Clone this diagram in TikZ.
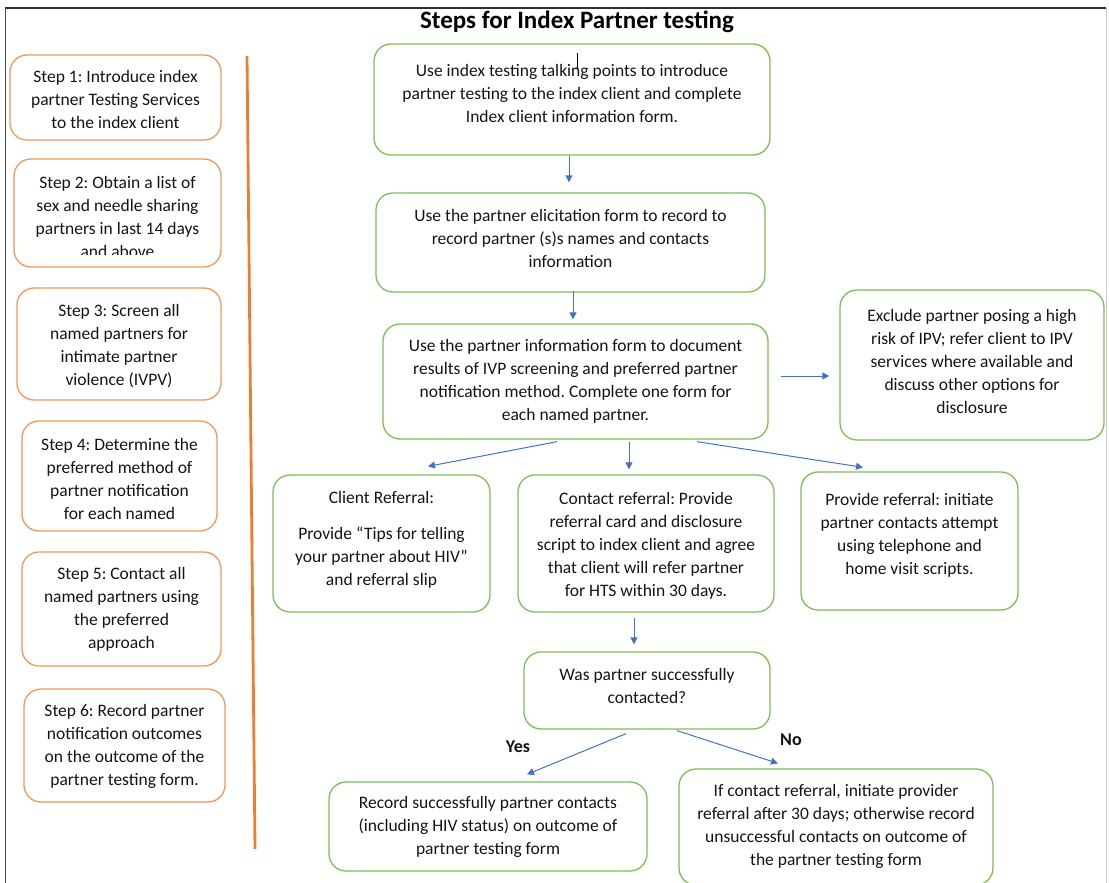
\documentclass[tikz,border=0pt]{standalone}
\usepackage{fontspec}
\setmainfont{Carlito}
\usetikzlibrary{arrows.meta}
\frenchspacing

\definecolor{boxgreen}{RGB}{128,188,88}
\definecolor{boxorange}{RGB}{242,150,90}
\definecolor{lineorange}{RGB}{237,125,49}
\definecolor{arrowblue}{RGB}{68,114,196}
\definecolor{ink}{RGB}{20,20,20}

\tikzset{
  gbox/.style={draw=boxgreen, line width=1.3pt, rounded corners=17pt},
  obox/.style={draw=boxorange, line width=1.3pt, rounded corners=17pt},
  txt/.style={align=center, font=\fontsize{17.5}{23}\selectfont, text=ink, inner sep=0pt},
  lbl/.style={font=\fontsize{18}{20}\selectfont\bfseries, text=ink, inner sep=0pt},
  arr/.style={draw=arrowblue, line width=1pt, -{Triangle[length=7pt,width=7pt]}}
}

\begin{document}
\begin{tikzpicture}[x=1pt,y=-1pt]
\useasboundingbox (0,0) rectangle (1109,883);

% page frame
\draw[gray!35!black, line width=1.4pt] (5,8) -- (1106,8);
\draw[gray!60!black, line width=0.8pt] (5,8) -- (5,883);
\draw[gray!40, line width=0.8pt] (1106,8) -- (1106,883);

% title
\node[font=\fontsize{25}{28}\selectfont\bfseries, text=black, inner sep=0pt] (title) at (577,22) {Steps for Index Partner testing};

% left column: the six steps
\node[obox, minimum width=211pt, minimum height=85pt] (s1) at (115.5,97.5) {};
\node[txt] (s1t) at (115.5,99) {Step 1: Introduce index\\partner Testing Services\\to the index client};

\node[obox, minimum width=207pt, minimum height=108pt] (s2) at (117.5,213) {};
\begin{scope}
  \clip (14,159) rectangle (221,254.5);
  \node[txt] (s2t) at (117.5,216.5) {Step 2: Obtain a list of\\sex and needle sharing\\partners in last 14 days\\and above};
\end{scope}

\node[obox, minimum width=204pt, minimum height=112pt] (s3) at (119,344) {};
\node[txt] (s3t) at (119,346.5) {Step 3: Screen all\\named partners for\\intimate partner\\violence (IVPV)};

\node[obox, minimum width=195pt, minimum height=110pt] (s4) at (119.5,476) {};
\node[txt] (s4t) at (119.5,478.5) {Step 4: Determine the\\preferred method of\\partner notification\\for each named};

\node[obox, minimum width=199pt, minimum height=114pt] (s5) at (121.5,609) {};
\node[txt] (s5t) at (121.5,609.5) {Step 5: Contact all\\named partners using\\the preferred\\approach};

\node[obox, minimum width=201pt, minimum height=113pt] (s6) at (124.5,745.5) {};
\node[txt] (s6t) at (124.5,746.5) {Step 6: Record partner\\notification outcomes\\on the outcome of the\\partner testing form.};

% divider
\draw[lineorange, line width=2.8pt] (247,56) -- (255,849);

% flow boxes
\node[gbox, minimum width=396pt, minimum height=111pt] (b1) at (572,99.5) {};
\node[txt] (b1t) at (572,93) {Use index testing talking points to introduce\\partner testing to the index client and complete\\Index client information form.};
\draw[black, line width=0.7pt] (577,53) -- (577,68) -- (575,68);

\node[gbox, minimum width=389pt, minimum height=99pt] (b2) at (570.5,242.5) {};
\node[txt] (b2t) at (570.5,238) {Use the partner elicitation form to record to\\record partner (s)s names and contacts\\information};

\node[gbox, minimum width=385pt, minimum height=115pt] (b3) at (575.5,381.5) {};
\node[txt] (b3t) at (575.5,381.5) {Use the partner information form to document\\results of IVP screening and preferred partner\\notification method. Complete one form for\\each named partner.};

\node[gbox, minimum width=264pt, minimum height=150pt] (ex) at (972,365) {};
\node[txt] (ext) at (972,361.5) {Exclude partner posing a high\\risk of IPV; refer client to IPV\\services where available and\\discuss other options for\\disclosure};

\node[gbox, minimum width=217pt, minimum height=137pt] (cr) at (381.5,543.5) {};
\node[txt] (crt) at (381.5,540) {Client Referral:\\[13pt]Provide “Tips for telling\\your partner about HIV”\\and referral slip};

\node[gbox, minimum width=256pt, minimum height=137pt] (ct) at (646,543.5) {};
\node[txt] (ctt) at (646,545.5) {Contact referral: Provide\\referral card and disclosure\\script to index client and agree\\that client will refer partner\\for HTS within 30 days.};

\node[gbox, minimum width=217pt, minimum height=138pt] (pr) at (909.5,541) {};
\node[txt] (prt) at (909.5,535) {Provide referral: initiate\\partner contacts attempt\\using telephone and\\home visit scripts.};

\node[gbox, minimum width=246pt, minimum height=77pt] (q) at (647,690.5) {};
\node[txt] (qt) at (647,685.5) {Was partner successfully\\contacted?};

\node[gbox, minimum width=318pt, minimum height=89pt] (yes) at (488,826.5) {};
\node[txt] (yest) at (488,827) {Record successfully partner contacts\\(including HIV status) on outcome of\\partner testing form};

\node[gbox, minimum width=314pt, minimum height=116pt] (no) at (836,827) {};
\node[txt] (not) at (836,826.5) {If contact referral, initiate provider\\referral after 30 days; otherwise record\\unsuccessful contacts on outcome of\\the partner testing form};

% branch labels
\node[lbl] (yeslbl) at (518,747) {Yes};
\node[lbl] (nolbl) at (791,740) {No};

% connectors
\draw[arr] ([xshift=-3pt]b1.south) -- ([xshift=-1.5pt,yshift=10pt]b2.north);
\draw[arr] ([xshift=2.5pt,yshift=2pt]b2.south) -- ([xshift=-2.5pt,yshift=4pt]b3.north);
\draw[arr] ([xshift=12pt,yshift=5.5pt]b3.east) -- ([xshift=-10pt,yshift=-11pt]ex.west);
\draw[arr] ([xshift=-18.5pt,yshift=-2pt]b3.south) -- ([xshift=46.5pt,yshift=8pt]cr.north);
\draw[arr] ([xshift=53.5pt,yshift=-2pt]b3.south) -- ([xshift=-17pt,yshift=5pt]ct.north);
\draw[arr] ([xshift=121.5pt,yshift=-2pt]b3.south) -- ([xshift=-46.5pt,yshift=4pt]pr.north);
\draw[arr] ([xshift=-12pt,yshift=-5pt]ct.south) -- ([xshift=-13pt,yshift=7pt]q.north);
\draw[arr] ([xshift=-21pt,yshift=-4pt]q.south) -- ([xshift=39pt,yshift=7pt]yes.north);
\draw[arr] ([xshift=30pt,yshift=-1pt]q.south) -- ([xshift=-58pt,yshift=5pt]no.north);
\end{tikzpicture}
\end{document}
